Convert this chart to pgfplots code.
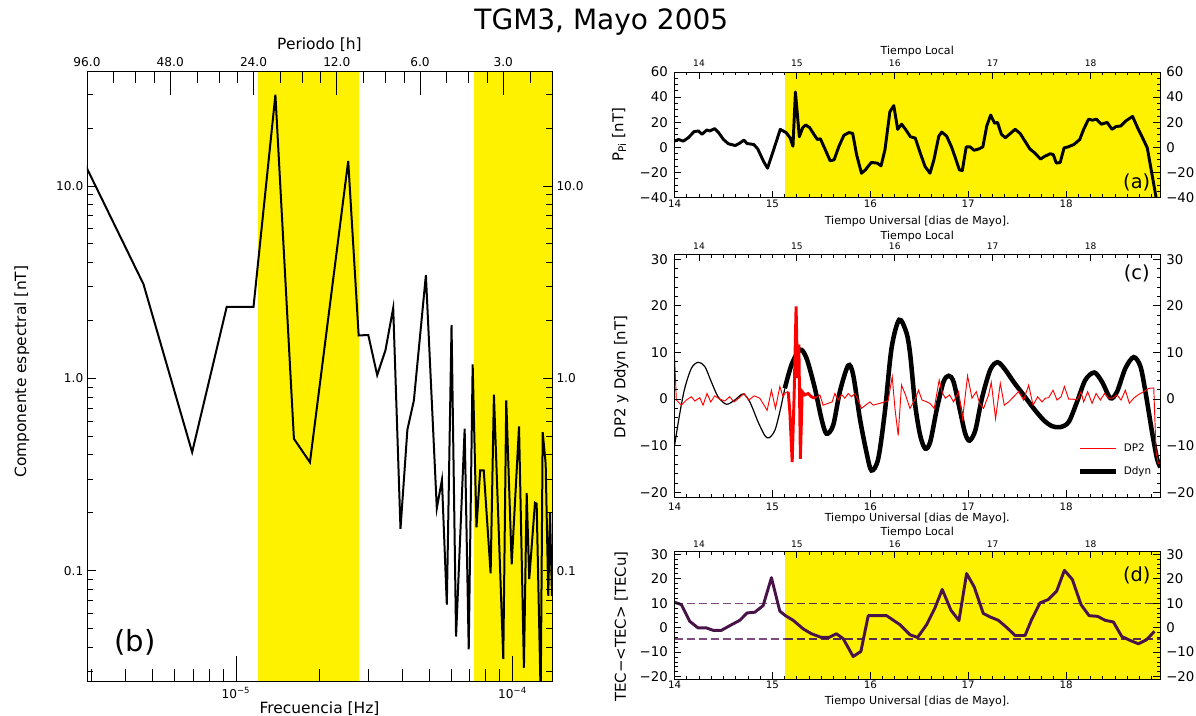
\documentclass[border=0pt]{standalone}
\usepackage{fontspec}
\setmainfont{DejaVu Sans}
\usepackage{pgfplots}
\pgfplotsset{compat=1.18}
\newcommand\fs[1]{\fontsize{#1}{#1}\selectfont}
\definecolor{tecp}{RGB}{72,20,72}
\definecolor{tecd}{RGB}{125,75,125}
\definecolor{tecdy}{RGB}{85,45,70}
\pgfplotsset{
 rbase/.style={scale only axis, width=364.1pt, xmin=14, xmax=18.96,
   axis line style={line width=0.7pt}, every tick/.style={black, line width=0.6pt},
   major tick length=5pt, minor tick length=2.5pt, tick align=inside,
   xtick={14,15,16,17,18}, xticklabels={14,15,16,17,18},
   minor xtick={14,14.125,...,18.9},
   xticklabel style={font=\fs{7.7}, inner sep=0pt, anchor=center},
   yticklabel style={font=\fs{10}, inner sep=0pt},
   label style={font=\fs{8.3}}},
 rtop/.style={rbase, xtick={14.25,15.25,16.25,17.25,18.25},
   xtick pos=right, xticklabel pos=right, ytick pos=right, yticklabel pos=right,
   yticklabel style={anchor=west, xshift=4.5pt}, xticklabel style={font=\fs{6.8}},
   xlabel={Tiempo Local}},
 rbot/.style={rbase, xtick pos=left, ytick pos=left, xticklabel pos=left, yticklabel pos=left,
   yticklabel style={anchor=east, xshift=-4.9pt},
   xlabel={Tiempo Universal [dias de Mayo].}, axis on top},
 pa/.style={at={(505.9pt,-54pt)}, anchor=north west, height=94.1pt, ymin=-40, ymax=60,
   ytick={-40,-20,0,20,40,60}, yticklabels={−40,−20,0,20,40,60}, minor ytick={-40,-35,...,60}},
 pc/.style={at={(505.9pt,-190.9pt)}, anchor=north west, height=181.9pt, ymin=-21, ymax=31,
   ytick={-20,-10,0,10,20,30}, yticklabels={−20,−10,0,10,20,30}, minor ytick={-20,-18,...,30}},
 pd/.style={at={(505.9pt,-413.8pt)}, anchor=north west, height=95.5pt, ymin=-21, ymax=31,
   ytick={-20,-10,0,10,20,30}, yticklabels={−20,−10,0,10,20,30}, minor ytick={-20,-18,...,30}},
 lbase/.style={scale only axis, width=348.75pt, height=457.5pt, at={(65.25pt,-53.25pt)}, anchor=north west,
   xmin=2.8935e-6, xmax=1.3889e-4, ymin=0.0267, ymax=39.6,
   axis line style={line width=0.7pt}, every tick/.style={black, line width=0.6pt}, tick align=inside,
   label style={font=\fs{11.6}}},
}
\begin{document}
\begin{tikzpicture}[x=1pt,y=1pt]
\path[use as bounding box] (0,0) rectangle (897,-537);
\node[font=\fs{21}] at (451,-16.5) {TGM3, Mayo 2005};

% ---------------- panel (b) ----------------
\begin{axis}[xmode=log, ymode=log, lbase, xtick={1e-5,1e-4}, xticklabels={10\textsuperscript{−5},10\textsuperscript{−4}},
  minor xtick={3e-6,4e-6,5e-6,6e-6,7e-6,8e-6,9e-6,2e-5,3e-5,4e-5,5e-5,6e-5,7e-5,8e-5,9e-5},
  xtick pos=left, xticklabel pos=left, ytick=\empty,
  major tick length=18.75pt, minor tick length=9pt,
  xticklabel style={font=\fs{9.1}, inner sep=0pt, anchor=center, yshift=-9.2pt},
  xlabel={Frecuencia [Hz]}, xlabel style={at={(axis description cs:0.5,-0.0448)}, anchor=center},
  ylabel={Componente espectral [nT]}, ylabel style={at={(axis description cs:-0.1398,0.507)}, anchor=center},
  axis on top]
\addplot[draw=none, fill=yellow] coordinates {(1.198e-5,0.0267) (2.792e-5,0.0267) (2.792e-5,39.6) (1.198e-5,39.6)};
\addplot[draw=none, fill=yellow] coordinates {(7.27e-5,0.0267) (1.3889e-4,0.0267) (1.3889e-4,39.6) (7.27e-5,39.6)};
\addplot[black, line width=1.5pt] coordinates {
(2.3148e-6,23.8) (4.6296e-6,3.09) (6.9444e-6,0.413) (9.2593e-6,2.35) (1.1574e-5,2.35)
(1.3889e-5,29.8) (1.6204e-5,0.485) (1.8519e-5,0.366) (2.5463e-5,13.5) (2.7778e-5,1.67)
(3.0093e-5,1.68) (3.2407e-5,1.04) (3.4722e-5,1.40) (3.7037e-5,2.32) (3.9352e-5,0.165)
(4.1667e-5,0.54) (4.3981e-5,0.767) (4.8611e-5,3.44) (5.3241e-5,0.211) (5.5556e-5,0.296)
(5.787e-5,0.0666) (6.0185e-5,1.89) (6.25e-5,0.0455) (6.713e-5,0.547) (6.9444e-5,0.039)
(7.1759e-5,1.18) (7.4074e-5,0.168) (7.6389e-5,0.332) (7.8704e-5,0.332) (8.3333e-5,0.097)
(8.5648e-5,0.822) (9.2593e-5,0.0347) (9.4907e-5,0.767) (9.93e-5,0.108) (1.0556e-4,0.562)
(1.0995e-4,0.0313) (1.125e-4,0.253) (1.1493e-4,0.0905) (1.2054e-4,0.2255) (1.2224e-4,0.223)
(1.2642e-4,0.022) (1.2853e-4,0.525) (1.3177e-4,0.36) (1.3467e-4,0.074) (1.366e-4,0.2) (1.3889e-4,0.074)};
\node[font=\fs{21.8}] at (axis description cs:0.103,0.064) {(b)};
\end{axis}
\begin{axis}[xmode=log, ymode=log, lbase,
  xtick={2.8935e-6,5.787e-6,1.1574e-5,2.3148e-5,4.6296e-5,9.2593e-5},
  xticklabels={96.0,48.0,24.0,12.0,6.0,3.0},
  minor xtick={3.6169e-6,4.3403e-6,5.0637e-6,7.2338e-6,8.6806e-6,1.0127e-5,1.4468e-5,1.7361e-5,2.0255e-5,2.8935e-5,3.4722e-5,4.0509e-5,5.787e-5,6.9444e-5,8.1019e-5,1.1574e-4},
  xtick pos=right, xticklabel pos=right, ytick=\empty,
  major tick length=18pt, minor tick length=9pt,
  xticklabel style={font=\fs{9.1}, inner sep=0pt, anchor=center, yshift=7pt},
  xlabel={Periodo [h]}, xlabel style={at={(axis description cs:0.5,1.0426)}, anchor=center}]
\end{axis}
\begin{axis}[xmode=log, ymode=log, lbase, xtick=\empty, ytick={0.1,1,10}, yticklabels={0.1,1.0,10.0},
  minor ytick={0.03,0.04,0.05,0.06,0.07,0.08,0.09,0.2,0.3,0.4,0.5,0.6,0.7,0.8,0.9,2,3,4,5,6,7,8,9,20,30},
  ytick pos=both, yticklabel pos=left, major tick length=6.75pt, minor tick length=4.5pt,
  yticklabel style={font=\fs{9.1}, inner sep=0pt, anchor=east, xshift=-2.6pt}]
\end{axis}
\begin{axis}[xmode=log, ymode=log, lbase, xtick=\empty, ytick={0.1,1,10}, yticklabels={0.1,1.0,10.0},
  minor ytick={0.03,0.04,0.05,0.06,0.07,0.08,0.09,0.2,0.3,0.4,0.5,0.6,0.7,0.8,0.9,2,3,4,5,6,7,8,9,20,30},
  ytick pos=right, yticklabel pos=right, major tick length=6.75pt, minor tick length=4.5pt,
  yticklabel style={font=\fs{9.1}, inner sep=0pt, anchor=west, xshift=3.2pt}]
\end{axis}

% ---------------- panel (a) ----------------
\begin{axis}[rbot, pa, xticklabel style={yshift=-4.9pt},
  xlabel style={at={(axis description cs:0.5,-0.193)}, anchor=center},
  ylabel={P\textsubscript{Pi} [nT]}, ylabel style={at={(axis description cs:-0.1143,0.5)}, anchor=center, font=\fs{11.2}}]
\addplot[draw=none, fill=yellow] coordinates {(15.125,-40) (18.96,-40) (18.96,60) (15.125,60)};
\addplot[black, line width=2.2pt, line join=round] coordinates {
(14.0,4.9) (14.04,6.2) (14.09,4.9) (14.14,7.6) (14.2,12.5) (14.245,13) (14.28,10.3) (14.33,13.8)
(14.36,13) (14.41,14.9) (14.45,11.7) (14.50,6.2) (14.55,2.8) (14.62,1.4) (14.66,3.0) (14.71,5.7)
(14.74,3.0) (14.81,2.2) (14.85,-1.3) (14.91,-11.3) (14.95,-16.7) (14.99,-7.3) (15.03,2.2) (15.08,14.3)
(15.14,11.7) (15.18,7.6) (15.21,0.8) (15.235,44) (15.275,8.4) (15.31,15.7) (15.34,17.8) (15.38,15.7)
(15.44,8.4) (15.46,6.2) (15.49,6.8) (15.54,-1.9) (15.59,-10.8) (15.63,-10) (15.68,0.8) (15.73,9.5)
(15.78,11.7) (15.82,11.1) (15.86,-5.9) (15.91,-20.7) (15.95,-18) (16.01,-12.1) (16.07,-12.6) (16.11,-14.8)
(16.15,-1.9) (16.20,28.3) (16.24,33.2) (16.28,14.3) (16.32,18.4) (16.36,14.3) (16.41,8.4) (16.46,7.3)
(16.51,-4.5) (16.56,-15.4) (16.61,-20.7) (16.65,-10) (16.70,8.9) (16.73,12.1) (16.78,8.9) (16.83,0.3)
(16.87,-8.6) (16.91,-18) (16.94,-18.6) (16.98,0.3) (17.02,0.3) (17.06,-2.4) (17.11,-1.3) (17.15,0.3)
(17.19,17) (17.23,25.7) (17.27,19.2) (17.30,19.8) (17.34,10.3) (17.38,7.6) (17.42,10.3) (17.48,14.3)
(17.53,11.1) (17.58,4.9) (17.63,-1.3) (17.68,-4.5) (17.74,-9.4) (17.78,-7.3) (17.84,-5.1) (17.87,-5.9)
(17.90,-12.6) (17.94,-12.1) (17.98,-0.5) (18.02,0.3) (18.08,2.2) (18.14,6.2) (18.18,14.3) (18.23,22.4)
(18.27,21.6) (18.31,22.4) (18.36,18.4) (18.42,19.8) (18.47,14.3) (18.51,16.5) (18.56,17) (18.61,21)
(18.68,24.6) (18.73,15.7) (18.79,6.2) (18.83,-0.5) (18.87,-18) (18.92,-40) (18.96,-52)};
\node[font=\fs{14.5}] at (axis description cs:0.952,0.12) {(a)};
\end{axis}
\begin{axis}[rtop, pa, xticklabel style={yshift=6.5pt},
  xlabel style={at={(axis description cs:0.5,1.162)}, anchor=center}]
\end{axis}

% ---------------- panel (c) ----------------
\begin{axis}[rbot, pc, xticklabel style={yshift=-7.5pt},
  xlabel style={at={(axis description cs:0.5,-0.088)}, anchor=center},
  ylabel={DP2 y Ddyn [nT]}, ylabel style={at={(axis description cs:-0.110,0.495)}, anchor=center, font=\fs{11.2}},
  reverse legend,
  legend style={at={(axis description cs:0.829,0.153)}, anchor=west, draw=none, fill=none,
    font=\fs{7.8}, inner sep=0pt, row sep=10.4pt, column sep=4.5pt, cells={anchor=west},
    nodes={inner sep=0pt, text height=5.7pt, text depth=1.5pt}},
  legend image code/.code={\draw[#1] (0pt,0pt) -- (27pt,0pt);}]
\addplot[black, line width=0.9pt, smooth, tension=0.5, forget plot] coordinates {
(14.0,-10) (14.05,-3.5) (14.104,2.3) (14.172,6.6) (14.240,7.9) (14.309,7.0) (14.376,3.7) (14.445,0.5) (14.530,-1.1)
(14.616,-0.2) (14.700,1.1) (14.769,-0.6) (14.854,-4.9) (14.922,-7.8) (14.966,-8.3) (15.025,-6.7)
(15.076,-2.7) (15.127,2.3)};
\addplot[black, line width=3.4pt, smooth, tension=0.5] coordinates {
(15.127,2.3) (15.194,7.3) (15.280,10.6) (15.348,8.8) (15.434,2.3) (15.501,-4.2) (15.552,-7.4)
(15.621,-5.6) (15.689,1.6) (15.774,7.2) (15.825,5.2) (15.894,-4.2) (15.961,-11.4) (16.012,-15.3)
(16.081,-12.8) (16.149,-2.7) (16.217,10.9) (16.295,17.0) (16.370,14.2) (16.408,9.5) (16.459,-1.3)
(16.510,-7.8) (16.561,-10.6) (16.612,-9.2) (16.681,-2.0) (16.748,3.7) (16.800,5.0) (16.851,3.7)
(16.919,-2.7) (16.970,-7.4) (17.014,-8.9) (17.073,-6.7) (17.141,0.2) (17.226,6.3) (17.301,7.9)
(17.379,6.3) (17.464,3.7) (17.566,0.9) (17.669,-2.0) (17.771,-4.5) (17.857,-5.8) (17.942,-6.0)
(18.027,-4.9) (18.112,-0.6) (18.197,4.1) (18.289,5.7) (18.368,3.7) (18.453,0.2) (18.521,1.6)
(18.606,6.6) (18.691,9.0) (18.760,7.0) (18.811,1.6) (18.879,-7.1) (18.930,-12.8) (18.964,-14.6)};
\addlegendentry{Ddyn}
\addplot[red, line width=0.7pt] coordinates {
(14.0,9.5) (14.018,-0.2) (14.070,-1.3) (14.121,-0.2) (14.172,0.5) (14.207,-0.4) (14.258,0.3)
(14.291,-1.3) (14.332,1.2) (14.370,-0.6) (14.411,0.7) (14.462,0) (14.513,-0.4) (14.564,0.5)
(14.608,-0.6) (14.656,0.2) (14.711,1.2) (14.759,-0.2) (14.813,0.7) (14.871,0.2) (14.946,-2.4)
(14.990,1.9) (15.031,-2.0) (15.076,2.7) (15.109,0.5) (15.133,1.4) (15.161,1.6)};
\addlegendentry{DP2}
\addplot[red, line width=2.2pt, forget plot] coordinates {
(15.161,1.6) (15.178,-2.7) (15.202,-13.5) (15.222,0.9) (15.242,19.9) (15.256,4.5) (15.270,11.7)
(15.286,-12.8) (15.304,1.6) (15.331,0.9) (15.365,1.2) (15.399,0.5) (15.434,0.2)};
\addplot[red, line width=0.7pt, forget plot] coordinates {
(15.434,0.2) (15.485,0.9) (15.518,-1.3) (15.570,-0.9) (15.610,-0.6) (15.638,1.2) (15.672,-0.2)
(15.706,1.0) (15.740,0.2) (15.774,1.2) (15.808,0.5) (15.843,1.2) (15.876,-0.2) (15.910,-2.0)
(15.951,-1.3) (15.996,-0.6) (16.030,-1.3) (16.063,-1.1) (16.098,-0.9) (16.149,-0.6) (16.183,-0.3)
(16.224,4.8) (16.252,-2.0) (16.285,-7.8) (16.319,3.0) (16.360,0.9) (16.405,-2.0) (16.459,0)
(16.493,1.9) (16.528,-0.2) (16.579,-0.6) (16.613,-1.0) (16.653,-2.0) (16.704,4.1) (16.732,1.6)
(16.766,0.2) (16.810,0.9) (16.851,-0.6) (16.902,1.6) (16.943,-4.2) (16.994,5.0) (17.039,0.2)
(17.083,1.6) (17.117,-0.9) (17.157,-2.0) (17.209,0.9) (17.236,3.6) (17.280,-4.2) (17.328,3.4)
(17.369,-1.3) (17.413,-0.6) (17.464,0.5) (17.515,1.6) (17.566,-0.2) (17.618,3.0) (17.663,-1.3)
(17.710,0.5) (17.755,-0.6) (17.788,0.2) (17.822,0.3) (17.867,1.9) (17.908,-0.2) (17.949,0.5)
(17.983,2.7) (18.027,0) (18.067,0) (18.112,-0.2) (18.153,1.6) (18.180,-0.6) (18.221,1.6)
(18.266,-0.9) (18.307,1.2) (18.351,-0.2) (18.392,1.2) (18.436,0.2) (18.476,0.2) (18.521,0.9)
(18.562,-0.2) (18.606,1.9) (18.647,-0.9) (18.691,0.2) (18.742,1.0) (18.793,1.6) (18.845,2.3)
(18.896,2.4) (18.920,-11.4) (18.947,-14.2)};
\node[font=\fs{14.5}] at (axis description cs:0.952,0.92) {(c)};
\end{axis}
\begin{axis}[rtop, pc, xticklabel style={yshift=5.9pt},
  xlabel style={at={(axis description cs:0.5,1.076)}, anchor=center}]
\end{axis}

% ---------------- panel (d) ----------------
\begin{axis}[rbot, pd, xticklabel style={yshift=-4.5pt},
  xlabel style={at={(axis description cs:0.5,-0.178)}, anchor=center},
  ylabel={TEC−<TEC> [TECu]}, ylabel style={at={(axis description cs:-0.110,0.412)}, anchor=center, font=\fs{11.2}}]
\addplot[draw=none, fill=yellow] coordinates {(15.125,-21) (18.96,-21) (18.96,31) (15.125,31)};
\addplot[tecd, line width=0.9pt, dash pattern=on 6pt off 3pt] coordinates {(14,10) (15.125,10)};
\addplot[tecd, line width=0.9pt, dash pattern=on 6pt off 3pt] coordinates {(14,-4.6) (15.125,-4.6)};
\addplot[tecdy, line width=0.9pt, dash pattern=on 6pt off 3pt] coordinates {(15.125,10) (18.96,10)};
\addplot[tecdy, line width=0.9pt, dash pattern=on 6pt off 3pt] coordinates {(15.125,-4.6) (18.96,-4.6)};
\addplot[tecp, line width=2.2pt, line join=round] coordinates {
(14.0,10.4) (14.070,9.4) (14.155,2.6) (14.240,-0.1) (14.325,-0.1) (14.394,-1.1) (14.479,-1.1)
(14.564,0.8) (14.667,3.0) (14.741,6.0) (14.820,6.3) (14.905,9.0) (14.990,20.4) (15.076,6.7)
(15.133,4.9) (15.212,3.0) (15.314,-0.5) (15.399,-2.5) (15.501,-4.0) (15.577,-4.0) (15.654,-2.5)
(15.723,-4.5) (15.825,-11.8) (15.904,-9.7) (15.979,4.9) (16.166,4.9) (16.303,1.2) (16.405,-2.9)
(16.483,-4.0) (16.575,1.2) (16.661,8.1) (16.735,15.6) (16.824,7.1) (16.906,2.9) (16.984,22.1)
(17.062,16.6) (17.154,5.8) (17.223,4.4) (17.308,3.0) (17.393,0.1) (17.479,-3.2) (17.581,-3.2)
(17.648,3.3) (17.734,10.1) (17.819,11.5) (17.904,14.9) (17.983,23.4) (18.064,19.7) (18.153,9.4)
(18.235,4.9) (18.323,4.6) (18.399,3.0) (18.484,2.3) (18.569,-3.6) (18.654,-5.2) (18.739,-6.6)
(18.824,-4.9) (18.903,-1.5)};
\node[font=\fs{14.5}] at (axis description cs:0.952,0.813) {(d)};
\end{axis}
\begin{axis}[rtop, pd, xticklabel style={yshift=5.8pt},
  xlabel style={at={(axis description cs:0.5,1.149)}, anchor=center}]
\end{axis}
\end{tikzpicture}
\end{document}
